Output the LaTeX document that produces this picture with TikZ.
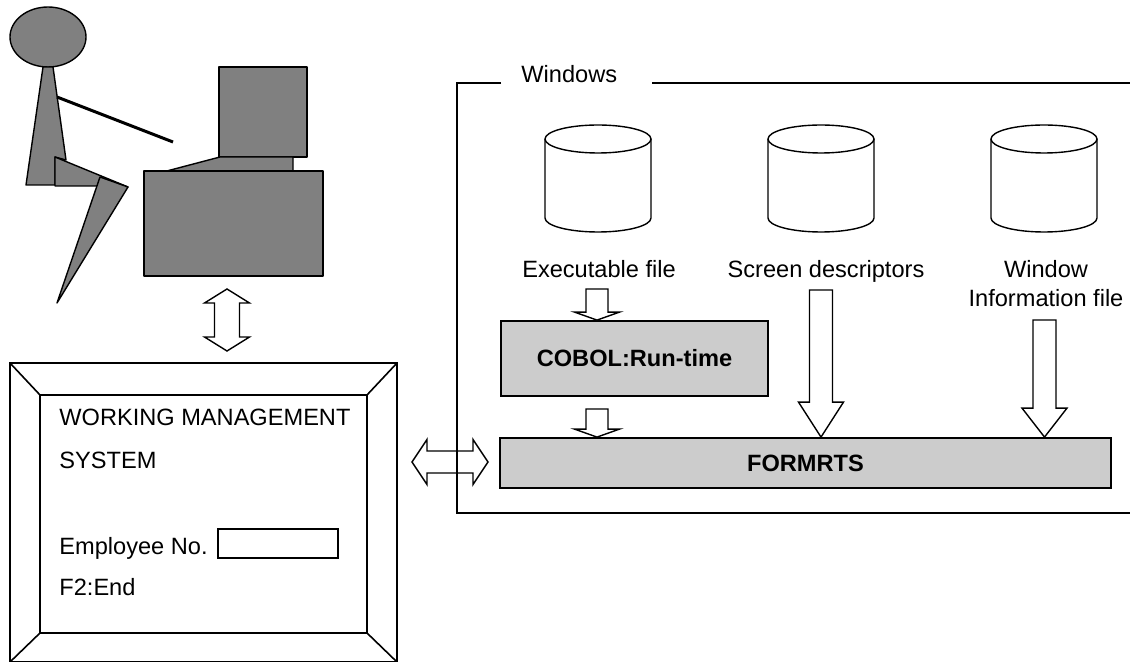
\documentclass[tikz,border=0pt]{standalone}
\usepackage{fontspec}
\setmainfont{Liberation Sans}
\usetikzlibrary{calc}
\definecolor{figgray}{HTML}{808080}
\definecolor{procgray}{HTML}{CCCCCC}
\tikzset{
  ln/.style={draw=black,line width=0.8pt},
  fig/.style={draw=black,line width=0.7pt,fill=figgray,line join=round},
  blk/.style={draw=black,line width=0.7pt,fill=white},
  drum/.style={draw=black,line width=0.7pt},
  procbox/.style={draw=black,line width=0.9pt,fill=procgray,inner sep=0pt,
    font=\bfseries\fontsize{11.8}{14}\selectfont},
  lbl/.style={inner sep=0pt,font=\fontsize{11.8}{14.5}\selectfont},
  plate/.style={ln,inner sep=0pt,outer sep=0pt}
}
% hollow block arrows: from, to, head length, half shaft width
\newcommand{\flowdown}[4]{%
  \draw[blk] let \p1=(#1), \p2=(#2) in
    (\x1-#4,\y1) -- (\x1+#4,\y1) -- (\x1+#4,\y2+#3) -- (\x1+11.25pt,\y2+#3)
    -- (\x1,\y2) -- (\x1-11.25pt,\y2+#3) -- (\x1-#4,\y2+#3) -- cycle;}
\newcommand{\flowvboth}[4]{%
  \draw[blk] let \p1=(#1), \p2=(#2) in
    (\x1,\y1) -- (\x1+11.25pt,\y1-#3) -- (\x1+#4,\y1-#3) -- (\x1+#4,\y2+#3)
    -- (\x1+11.25pt,\y2+#3) -- (\x1,\y2) -- (\x1-11.25pt,\y2+#3) -- (\x1-#4,\y2+#3)
    -- (\x1-#4,\y1-#3) -- (\x1-11.25pt,\y1-#3) -- cycle;}
\newcommand{\flowhboth}[4]{%
  \draw[blk] let \p1=(#1), \p2=(#2) in
    (\x1,\y1) -- (\x1+#3,\y1+11.25pt) -- (\x1+#3,\y1+#4) -- (\x2-#3,\y1+#4)
    -- (\x2-#3,\y1+11.25pt) -- (\x2,\y1) -- (\x2-#3,\y1-11.25pt) -- (\x2-#3,\y1-#4)
    -- (\x1+#3,\y1-#4) -- (\x1+#3,\y1-11.25pt) -- cycle;}
% disk drum centred on x
\newcommand{\drum}[1]{%
  \draw[drum] (#1,139) ellipse [x radius=53, y radius=14];
  \draw[drum] (#1-53,139) -- (#1-53,218) arc[start angle=180,end angle=0,x radius=53,y radius=14] -- (#1+53,139);}

\begin{document}
\begin{tikzpicture}[x=0.5pt,y=-0.5pt]
\useasboundingbox (0,0) rectangle (1130,662);

% operator at the terminal
\draw[fig] (48,37) ellipse [x radius=38, y radius=30];
\draw[fig] (43,67) -- (53,67) -- (66,160) -- (55,157) -- (55,185) -- (26,185) -- cycle;
\draw[fig] (55,157) -- (128,187) -- (99,186) -- (55,186) -- cycle;
\draw[fig] (100,177) -- (128,187) -- (57,303) -- cycle;
\draw[line width=1.5pt] (57,97) -- (173,142);
\draw[fig] (219,67) rectangle (307,157);
\draw[fig] (220,157) -- (293,157) -- (293,172) -- (163,172) -- cycle;
\node[fig,inner sep=0pt,minimum width=89.5pt,minimum height=52.5pt] (pc) at (233.5,223.5) {};

% screen
\node[plate,line width=1pt,minimum width=193.5pt,minimum height=149.5pt] (frame) at (203.5,512.5) {};
\node[plate,line width=1pt,minimum width=163.5pt,minimum height=119pt] (panel) at (203.5,514) {};
\foreach \c in {north west,north east,south west,south east}
  \draw[ln] (frame.\c) -- (panel.\c);
\node[lbl,anchor=base west] (title1) at (59,426) {WORKING MANAGEMENT};
\node[lbl,anchor=base west] (title2) at (59,469) {SYSTEM};
\node[lbl,anchor=base west] (empno) at (59,554) {Employee No.};
\node[plate,minimum width=60pt,minimum height=14.5pt] (empfield) at (278,543.5) {};
\node[lbl,anchor=base west] (endkey) at (59,595) {F2:End};

\coordinate (pc-link) at (227,289);
\coordinate (frame-link) at (227,351);
\flowvboth{pc-link}{frame-link}{7pt}{6.25pt}

% Windows side
\coordinate (panel-link) at (412,462);
\coordinate (rts-link) at (488,462);
\flowhboth{panel-link}{rts-link}{7.5pt}{5.5pt}
\draw[ln,line width=0.75pt] (501,83) -- (457,83) -- (457,513) -- (1132,513);
\draw[ln,line width=0.75pt] (652,83) -- (1132,83);
\node[lbl,anchor=base west] (wintitle) at (521,83) {Windows};

\drum{598}
\drum{821}
\drum{1044}
\node[lbl,anchor=base] (exe) at (599,278) {Executable file};
\node[lbl,anchor=base] (desc) at (826,278) {Screen descriptors};
\node[lbl,anchor=base,align=center] (wininfo) at (1046,307) {Window\\Information file};

\node[procbox,minimum width=133.5pt,minimum height=37.5pt] (cobol) at (634.5,358.5) {COBOL:Run-time};
\node[procbox,minimum width=305.5pt,minimum height=25pt] (formrts) at (805.5,463) {FORMRTS};

\coordinate (exe-out) at (597,289);
\coordinate (cobol-out) at (597,409);
\coordinate (desc-out) at (821,290);
\coordinate (info-out) at (1044.5,320);
\flowdown{exe-out}{exe-out |- cobol.north}{4pt}{5.5pt}
\flowdown{cobol-out}{cobol-out |- formrts.north}{4pt}{5.5pt}
\flowdown{desc-out}{desc-out |- formrts.north}{17.5pt}{5.75pt}
\flowdown{info-out}{info-out |- formrts.north}{14.5pt}{5.75pt}
\end{tikzpicture}
\end{document}
